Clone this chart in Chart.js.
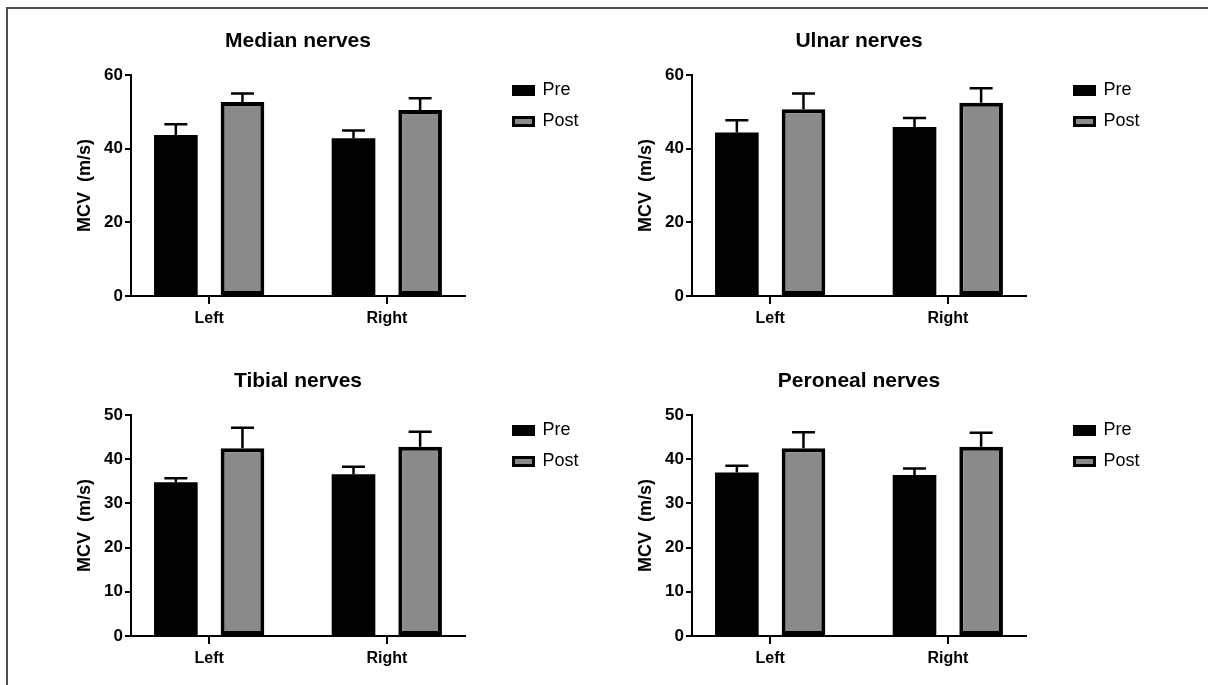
<!DOCTYPE html>
<html>
<head>
<meta charset="utf-8">
<script src="https://cdn.jsdelivr.net/npm/chart.js@4.4.1/dist/chart.umd.min.js"></script>
<style>
  html, body { margin: 0; padding: 0; background: #fff; }
  body { width: 1208px; height: 685px; position: relative; overflow: hidden; }
  #frame { position: absolute; left: 6px; top: 7px; right: 0; bottom: 0;
           border-top: 2px solid #4d4d4d; border-left: 2px solid #4d4d4d; }
  canvas { position: absolute; }
</style>
</head>
<body>
<div id="frame"></div>
<canvas id="median" width="560" height="315" style="left:70px;top:25px"></canvas>
<canvas id="ulnar" width="560" height="315" style="left:631px;top:25px"></canvas>
<canvas id="tibial" width="560" height="315" style="left:70px;top:365px"></canvas>
<canvas id="peroneal" width="560" height="315" style="left:631px;top:365px"></canvas>
<script>
// Data (MCV in m/s, mean and upper SD)
const categories = ['Left', 'Right'];
const seriesNames = ['Pre', 'Post'];

const medianPre = [43.7, 42.8];
const medianPreErr = [2.9, 2.1];
const medianPost = [52.7, 50.5];
const medianPostErr = [2.3, 3.2];

const ulnarPre = [44.4, 45.9];
const ulnarPreErr = [3.3, 2.4];
const ulnarPost = [50.7, 52.5];
const ulnarPostErr = [4.3, 3.9];

const tibialPre = [34.8, 36.6];
const tibialPreErr = [0.9, 1.7];
const tibialPost = [42.5, 42.8];
const tibialPostErr = [4.6, 3.4];

const peronealPre = [37.0, 36.4];
const peronealPreErr = [1.5, 1.5];
const peronealPost = [42.5, 42.8];
const peronealPostErr = [3.6, 3.2];

const armTicks = [0, 20, 40, 60];
const legTicks = [0, 10, 20, 30, 40, 50];

Chart.defaults.font.family = "'Liberation Sans', Arial, sans-serif";
Chart.defaults.color = '#000';

const errorBars = { // draws the upward SD whiskers on top of each bar
  id: 'errorBars',
  afterDatasetsDraw(chart) {
    const ctx = chart.ctx;
    const yScale = chart.scales.y;
    ctx.save();
    ctx.strokeStyle = '#000';
    ctx.lineWidth = 2.5;
    chart.data.datasets.forEach((ds, i) => {
      chart.getDatasetMeta(i).data.forEach((bar, j) => {
        const top = yScale.getPixelForValue(ds.data[j].y + ds.errors[j]);
        ctx.beginPath();
        ctx.moveTo(bar.x, bar.y);
        ctx.lineTo(bar.x, top);
        ctx.moveTo(bar.x - 11.5, top);
        ctx.lineTo(bar.x + 11.5, top);
        ctx.stroke();
      });
    });
    ctx.restore();
  }
};

const legendShift = { // pushes the legend away from the plot like in the figure
  id: 'legendShift',
  afterLayout(chart) {
    const lg = chart.legend;
    const w = lg.width + 60;
    lg.left = chart.chartArea.right + 35.5;
    lg.right = lg.left + w;
    lg.width = w;
    lg.top = chart.chartArea.top - 6.5;
  }
};

function makeChart(id, title, pre, preErr, post, postErr, ticks) {
  const idx = categories.map((c, i) => i);
  return new Chart(document.getElementById(id), {
    type: 'bar',
    data: {
      datasets: [
        {
          label: seriesNames[0],
          data: idx.map(i => ({ x: i, y: pre[i] })),
          errors: preErr,
          backgroundColor: '#000',
          borderColor: '#000',
          borderWidth: 0
        },
        {
          label: seriesNames[1],
          data: idx.map(i => ({ x: i, y: post[i] })),
          errors: postErr,
          backgroundColor: '#8a8a8a',
          borderColor: '#000',
          borderWidth: 4,
          borderSkipped: false
        }
      ]
    },
    options: {
      responsive: false,
      animation: false,
      categoryPercentage: 0.75,
      barPercentage: 0.655,
      layout: { padding: { left: 0, right: 77, top: 0, bottom: 0 } },
      plugins: {
        tooltip: { enabled: false },
        title: {
          display: true,
          text: title,
          fullSize: false,
          font: { size: 21, weight: 'bold' },
          padding: { top: 4, bottom: 20.8 }
        },
        legend: {
          position: 'right',
          align: 'start',
          labels: {
            boxWidth: 20,
            boxHeight: 8,
            padding: 13,
            font: { size: 18 },
            color: '#000',
            generateLabels(chart) {
              const items = Chart.defaults.plugins.legend.labels.generateLabels(chart);
              items.forEach(it => { it.lineWidth = 3; it.strokeStyle = '#000'; });
              return items;
            }
          }
        }
      },
      scales: {
        x: {
          type: 'linear',
          min: -0.44,
          max: 1.44,
          offset: false,
          afterBuildTicks(scale) { scale.ticks = idx.map(i => ({ value: i })); },
          afterFit(scale) { scale.height = 44; },
          ticks: {
            callback: (v, i) => categories[i],
            font: { size: 16, weight: 'bold' },
            padding: 5,
            maxRotation: 0
          },
          grid: { offset: false, drawOnChartArea: false, drawTicks: true, tickLength: 8, color: '#000', lineWidth: 2 },
          border: { display: true, color: '#000', width: 2 }
        },
        y: {
          min: ticks[0],
          max: ticks[ticks.length - 1],
          afterFit(scale) { scale.width = 61; },
          ticks: {
            stepSize: ticks[1] - ticks[0],
            font: { size: 17, weight: 'bold' },
            padding: 2
          },
          title: {
            display: true,
            text: 'MCV  (m/s)',
            font: { size: 18, weight: 'bold' },
            padding: { top: 4, bottom: 0 }
          },
          grid: { drawOnChartArea: false, drawTicks: true, tickLength: 6, color: '#000', lineWidth: 2 },
          border: { display: true, color: '#000', width: 2 }
        }
      }
    },
    plugins: [errorBars, legendShift]
  });
}

makeChart('median', 'Median nerves', medianPre, medianPreErr, medianPost, medianPostErr, armTicks);
makeChart('ulnar', 'Ulnar nerves', ulnarPre, ulnarPreErr, ulnarPost, ulnarPostErr, armTicks);
makeChart('tibial', 'Tibial nerves', tibialPre, tibialPreErr, tibialPost, tibialPostErr, legTicks);
makeChart('peroneal', 'Peroneal nerves', peronealPre, peronealPreErr, peronealPost, peronealPostErr, legTicks);
</script>
</body>
</html>
